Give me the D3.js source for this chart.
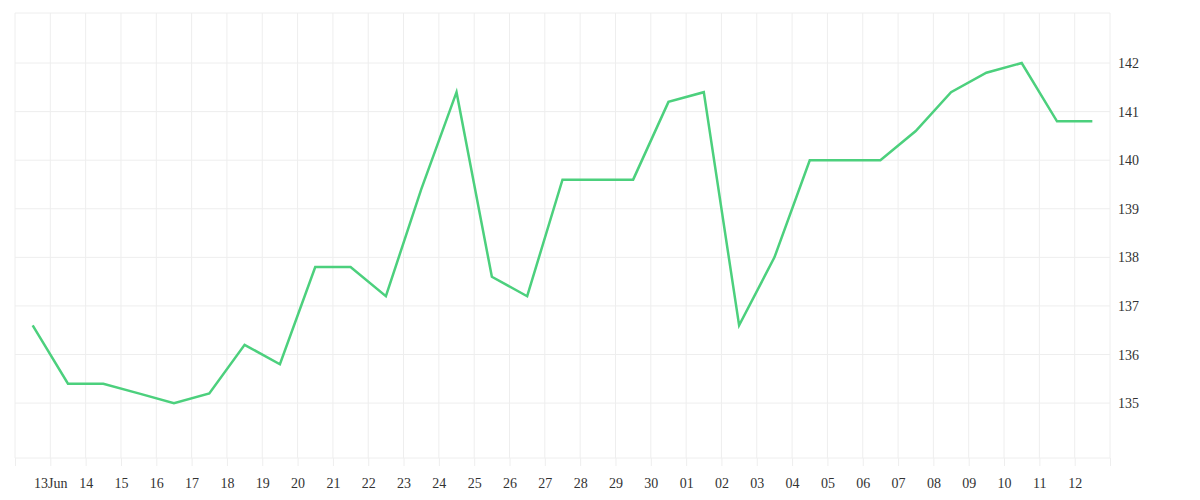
<!DOCTYPE html>
<html><head><meta charset="utf-8">
<script src="https://cdn.jsdelivr.net/npm/d3@7"></script>
<style>body{margin:0;background:#fff}text{font-family:"Liberation Serif","DejaVu Serif",serif;font-size:14px;fill:#333}</style>
</head><body><svg id="c" width="1200" height="500"></svg>
<script>
const startDate = "2024-06-12T12:00";
const values = [136.6,135.4,135.4,135.2,135.0,135.2,136.2,135.8,137.8,137.8,137.2,139.4,141.4,137.6,137.2,139.6,139.6,139.6,141.2,141.4,136.6,138.0,140.0,140.0,140.0,140.6,141.4,141.8,142.0,140.8,140.8];
const yTicks = [135,136,137,138,139,140,141,142];
const t0 = new Date(startDate);
const data = values.map((v,i)=>({d:d3.timeDay.offset(t0,i),v}));
const L=15,R=1110,T=13,B=458;
const x = d3.scaleTime().domain([new Date("2024-06-12T00:00"),new Date("2024-07-13T00:00")]).range([L,R]);
const y = d3.scaleLinear().domain([133.87,143.03]).range([B,T]);
const svg = d3.select("#c");
const days = d3.timeDay.range(new Date("2024-06-12T00:00"), new Date("2024-07-13T00:01"));
const g = svg.append("g");
g.selectAll(".vg").data(days).join("line").attr("x1",d=>x(d)).attr("x2",d=>x(d)).attr("y1",T).attr("y2",B).attr("stroke","#eee");
g.selectAll(".hg").data([...yTicks,133.87,143.03]).join("line").attr("x1",L).attr("x2",R).attr("y1",d=>y(d)).attr("y2",d=>y(d)).attr("stroke","#eee");
const labDays = days.slice(1,-1);
const xa = d3.axisBottom(x).tickValues(days).tickSize(8).tickPadding(12)
  .tickFormat(d=> (+d===+labDays[0]) ? "13Jun" : (labDays.some(e=>+e===+d)? d3.timeFormat("%d")(d):""));
svg.append("g").attr("transform",`translate(0,${B})`).call(xa).call(s=>{s.select(".domain").remove();s.selectAll("line").attr("stroke","#eee");s.selectAll("text").attr("font-size",14);});
const ya = d3.axisRight(y).tickValues(yTicks).tickSize(0).tickPadding(8).tickFormat(d3.format("d"));
svg.append("g").attr("transform",`translate(${R},0)`).call(ya).call(s=>{s.select(".domain").remove();s.selectAll("text").attr("font-size",14);});
svg.append("path").datum(data).attr("fill","none").attr("stroke","#4cd07d").attr("stroke-width",2.5)
  .attr("d",d3.line().x(d=>x(d.d)).y(d=>y(d.v)));
</script></body></html>
